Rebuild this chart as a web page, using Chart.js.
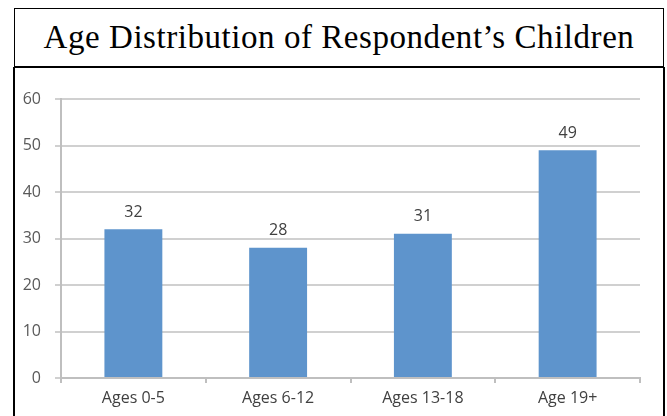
<!DOCTYPE html>
<html>
<head>
<meta charset="utf-8">
<script src="https://cdn.jsdelivr.net/npm/chart.js@4.4.0/dist/chart.umd.min.js"></script>
<style>
  html, body { margin: 0; padding: 0; background: #fff; }
  body { width: 667px; height: 416px; position: relative; overflow: hidden; }
  #caixa_titulo {
    position: absolute; left: 14px; top: 8px; width: 650px; height: 59px;
    box-sizing: border-box; border: 1px solid #000;
    font-family: "Liberation Serif", serif; font-size: 33px; color: #000;
    letter-spacing: 0.55px;
    text-align: center; line-height: 57px; white-space: nowrap;
  }
  #caixa_grafico {
    position: absolute; left: 13px; top: 67px; width: 652px; height: 370px;
    box-sizing: border-box; border: 2px solid #000; border-top-width: 1px;
  }
  #grafico { position: absolute; left: 0; top: 0; }
</style>
</head>
<body>
<div id="caixa_titulo">Age Distribution of Respondent’s Children</div>
<div id="caixa_grafico"></div>
<canvas id="grafico" width="667" height="416"></canvas>
<script>
// Data
var categorias = ['Ages 0-5', 'Ages 6-12', 'Ages 13-18', 'Age 19+'];
var valores = [32, 28, 31, 49];
var eixoMin = 0;
var eixoMax = 60;
var passo = 10;

// Draws the number above each bar
var rotulos = {
  id: 'rotulos',
  afterDatasetsDraw: function(chart) {
    var ctx = chart.ctx;
    var meta = chart.getDatasetMeta(0);
    ctx.save();
    ctx.font = '16px "Open Sans"';
    ctx.fillStyle = '#404040';
    ctx.textAlign = 'center';
    ctx.textBaseline = 'middle';
    meta.data.forEach(function(barra, i) {
      ctx.fillText(valores[i], barra.x, barra.y - 17);
    });
    ctx.restore();
  }
};

function desenhar() {
  new Chart(document.getElementById('grafico'), {
    type: 'bar',
    data: {
      labels: categorias,
      datasets: [{
        data: valores,
        backgroundColor: '#5e94cc',
        categoryPercentage: 1,
        barPercentage: 0.4
      }]
    },
    options: {
      responsive: false,
      animation: false,
      layout: { padding: { top: 99, right: 27, left: 0, bottom: 0 } },
      plugins: { legend: { display: false }, tooltip: { enabled: false } },
      scales: {
        x: {
          grid: { drawOnChartArea: false, color: '#bfbfbf', lineWidth: 2, tickLength: 5 },
          border: { color: '#bfbfbf', width: 2 },
          ticks: { color: '#404040', font: { family: 'Open Sans', size: 16 }, padding: 6 },
          afterFit: function(s) { s.height = 38; }
        },
        y: {
          min: eixoMin,
          max: eixoMax,
          ticks: { stepSize: passo, color: '#595959', font: { family: 'Open Sans', size: 16 }, padding: 14 },
          grid: { color: '#d0d0d0', lineWidth: 2, tickLength: 6 },
          border: { color: '#bfbfbf', width: 2 },
          afterFit: function(s) { s.width = 61; }
        }
      }
    },
    plugins: [rotulos]
  });
}

document.fonts.load('16px "Open Sans"').then(desenhar, desenhar);
</script>
</body>
</html>
